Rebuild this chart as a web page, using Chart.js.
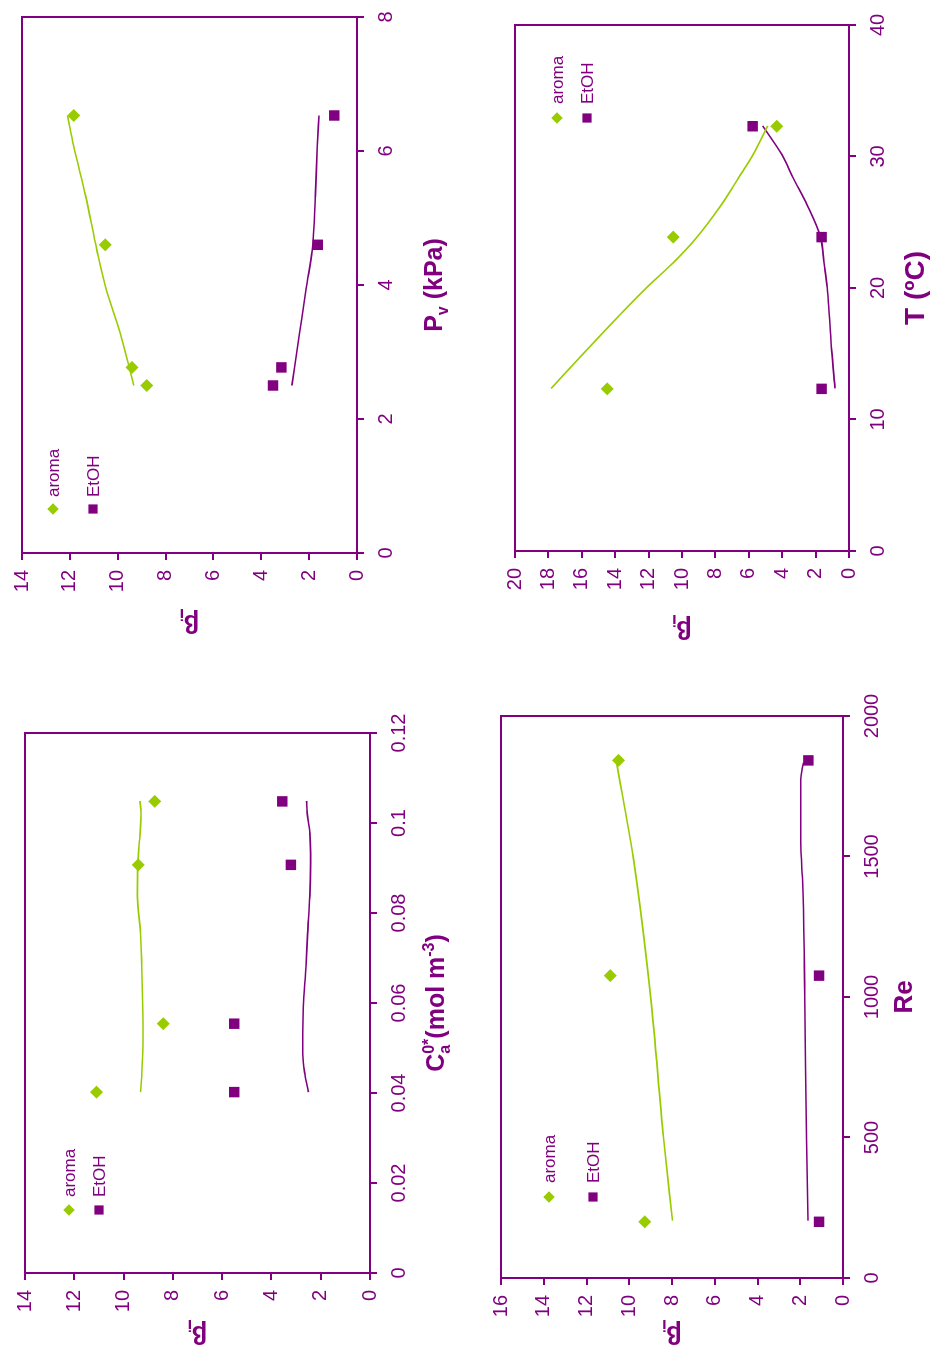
<!DOCTYPE html>
<html>
<head>
<meta charset="utf-8">
<title>βi – aroma and EtOH</title>
<script src="https://cdn.jsdelivr.net/npm/chart.js@4.4.1/dist/chart.umd.min.js"></script>
<style>
  html, body { margin: 0; padding: 0; background: #fff; overflow: hidden; width: 930px; height: 1353px; }
  /* the four panels are laid out on a landscape sheet that is turned a quarter turn */
  #sheet { position: absolute; left: 0; top: 0; width: 1353px; height: 930px; background: #fff;
           transform-origin: 0 0; transform: translateY(1353px) rotate(-90deg); }
  #sheet canvas { position: absolute; }
</style>
</head>
<body>
<div id="sheet"></div>
<script>
// ---------------- data ----------------
// β axis ticks
const beta14Ticks = [0, 2, 4, 6, 8, 10, 12, 14];
const beta14Labels = ['0', '2', '4', '6', '8', '10', '12', '14'];
const beta16Ticks = [0, 2, 4, 6, 8, 10, 12, 14, 16];
const beta16Labels = ['0', '2', '4', '6', '8', '10', '12', '14', '16'];
const beta20Ticks = [0, 2, 4, 6, 8, 10, 12, 14, 16, 18, 20];
const beta20Labels = ['0', '2', '4', '6', '8', '10', '12', '14', '16', '18', '20'];

// initial concentration C_a^0*
const caTicks = [0, 0.02, 0.04, 0.06, 0.08, 0.10, 0.12];
const caTickLabels = ['0', '0.02', '0.04', '0.06', '0.08', '0.1', '0.12'];
const caExp = [0.0402, 0.0554, 0.0907, 0.1048];
const caAroma = [11.10, 8.39, 9.40, 8.73];
const caEtoh = [5.51, 5.51, 3.21, 3.56];
const caFitX = [0.0402, 0.0441, 0.0487, 0.0534, 0.0589, 0.0681, 0.0755, 0.0838, 0.0912, 0.0977, 0.1023, 0.1049];
const caAromaFit = [9.31, 9.26, 9.22, 9.21, 9.22, 9.26, 9.31, 9.44, 9.42, 9.33, 9.29, 9.34];
const caEtohFit = [2.50, 2.64, 2.73, 2.73, 2.71, 2.60, 2.53, 2.44, 2.41, 2.44, 2.55, 2.57];

// Reynolds number
const reTicks = [0, 500, 1000, 1500, 2000];
const reTickLabels = ['0', '500', '1000', '1500', '2000'];
const reExp = [200, 1076, 1842];
const reAroma = [9.27, 10.89, 10.50];
const reEtoh = [1.12, 1.12, 1.62];
const reAromaFitX = [204, 500, 1000, 1500, 1834];
const reAromaFit = [7.98, 8.40, 9.00, 9.82, 10.59];
const reEtohFitX = [204, 500, 1000, 1400, 1550, 1775, 1834];
const reEtohFit = [1.64, 1.71, 1.79, 1.88, 1.98, 1.98, 1.85];

// permeate pressure P_v
const pvTicks = [0, 2, 4, 6, 8];
const pvTickLabels = ['0', '2', '4', '6', '8'];
const pvExp = [2.50, 2.77, 4.60, 6.53];
const pvAroma = [8.79, 9.40, 10.52, 11.84];
const pvEtoh = [3.51, 3.16, 1.64, 0.95];
const pvFitX = [2.50, 3.28, 3.96, 4.52, 5.33, 6.07, 6.53];
const pvAromaFit = [9.33, 9.89, 10.50, 10.87, 11.34, 11.84, 12.10];
const pvEtohFit = [2.72, 2.40, 2.12, 1.87, 1.74, 1.66, 1.59];

// temperature
const tTicks = [0, 10, 20, 30, 40];
const tTickLabels = ['0', '10', '20', '30', '40'];
const tExp = [12.33, 23.87, 32.30];
const tAroma = [14.47, 10.52, 4.33];
const tEtoh = [1.64, 1.64, 5.77];
const tFitX = [12.36, 15.28, 17.97, 20.03, 21.93, 23.84, 26.37, 28.34, 30.17, 32.33];
const tAromaFit = [17.84, 15.71, 13.71, 12.12, 10.52, 9.12, 7.62, 6.63, 5.73, 4.87];
const tEtohFit = [0.84, 1.04, 1.18, 1.30, 1.50, 1.70, 2.53, 3.33, 4.03, 5.17];

// series names
const seriesNames = ['aroma', 'EtOH'];

// axis titles as runs of text: [text, 'n' | 'sub' | 'sup', stackOverPrevious]
const betaTitle = [['β', 'n'], ['i', 'sub']];
const caTitle = [['C', 'n'], ['a', 'sub'], ['0*', 'sup', true], ['(mol m', 'n'], ['-3', 'sup'], [')', 'n']];
const reTitle = [['Re', 'n']];
const pvTitle = [['P', 'n'], ['v', 'sub'], [' (kPa)', 'n']];
const tTitle = [['T (ºC)', 'n']];

// ---------------- styling ----------------
const PURPLE = '#800080';
const GREEN = '#99CC00';
const FONT = "'Liberation Sans', Arial, Helvetica, sans-serif";

const panels = [
  { left: 0, top: 0, w: 680, h: 465, area: { l: 80, t: 25, r: 620, b: 370 },
    xRange: [0, 0.12], xTicks: caTicks, xLabels: caTickLabels,
    yRange: [0, 14], yTicks: beta14Ticks, yLabels: beta14Labels,
    expX: caExp, aroma: caAroma, etoh: caEtoh,
    aromaFitX: caFitX, aromaFit: caAromaFit, etohFitX: caFitX, etohFit: caEtohFit,
    xTitle: caTitle, xTitleSize: 25, xTitleY: 444, yTitleX: 27,
    legend: { dx: 63, dy: [44, 74], tx: 13 } },
  { left: 0, top: 465, w: 680, h: 465, area: { l: 75, t: 36, r: 637, b: 378 },
    xRange: [0, 2000], xTicks: reTicks, xLabels: reTickLabels,
    yRange: [0, 16], yTicks: beta16Ticks, yLabels: beta16Labels,
    expX: reExp, aroma: reAroma, etoh: reEtoh,
    aromaFitX: reAromaFitX, aromaFit: reAromaFit, etohFitX: reEtohFitX, etohFit: reEtohFit,
    xTitle: reTitle, xTitleSize: 26, xTitleY: 447, yTitleX: 27,
    legend: { dx: 81, dy: [48, 92], tx: 14 } },
  { left: 680, top: 0, w: 673, h: 465, area: { l: 120, t: 22, r: 656, b: 357 },
    xRange: [0, 8], xTicks: pvTicks, xLabels: pvTickLabels,
    yRange: [0, 14], yTicks: beta14Ticks, yLabels: beta14Labels,
    expX: pvExp, aroma: pvAroma, etoh: pvEtoh,
    aromaFitX: pvFitX, aromaFit: pvAromaFit, etohFitX: pvFitX, etohFit: pvEtohFit,
    xTitle: pvTitle, xTitleSize: 25, xTitleY: 442, yTitleX: 58,
    legend: { dx: 44, dy: [31, 71], tx: 12 } },
  { left: 680, top: 465, w: 673, h: 465, area: { l: 122, t: 50, r: 648, b: 384 },
    xRange: [0, 40], xTicks: tTicks, xLabels: tTickLabels,
    yRange: [0, 20], yTicks: beta20Ticks, yLabels: beta20Labels,
    expX: tExp, aroma: tAroma, etoh: tEtoh,
    aromaFitX: tFitX, aromaFit: tAromaFit, etohFitX: tFitX, etohFit: tEtohFit,
    xTitle: tTitle, xTitleSize: 28, xTitleY: 459, yTitleX: 52,
    legend: { dx: 433, dy: [42, 72], tx: 14 } }
];

// draws a run of normal / subscript / superscript text centred on x
function drawRich(ctx, runs, x, y, size) {
  const small = Math.round(size * 0.62);
  const laid = [];
  let total = 0, prevStart = 0;
  for (const [text, mode, stack] of runs) {
    const fs = mode === 'n' ? size : small;
    ctx.font = `bold ${fs}px ${FONT}`;
    const w = ctx.measureText(text).width;
    const sx = stack ? prevStart : total;
    laid.push({ text, mode, fs, sx });
    total = Math.max(total, sx + w);
    prevStart = sx;
  }
  const x0 = x - total / 2;
  ctx.textBaseline = 'alphabetic';
  ctx.textAlign = 'left';
  for (const r of laid) {
    const dy = r.mode === 'sub' ? size * 0.24 : r.mode === 'sup' ? -size * 0.42 : 0;
    ctx.font = `bold ${r.fs}px ${FONT}`;
    ctx.fillText(r.text, x0 + r.sx, y + dy);
  }
}

const decorations = {
  id: 'decorations',
  afterDraw(chart, args, opts) {
    const { ctx, chartArea: a } = chart;
    ctx.save();
    // upper and right edges of the plot frame
    ctx.strokeStyle = PURPLE;
    ctx.lineWidth = 2;
    ctx.beginPath();
    ctx.moveTo(a.left, a.top);
    ctx.lineTo(a.right, a.top);
    ctx.lineTo(a.right, a.bottom);
    ctx.stroke();

    // legend inside the plot
    const lg = opts.legend;
    [0, 1].forEach(i => {
      const ds = chart.data.datasets[i];
      const mx = a.left + lg.dx, my = a.top + lg.dy[i];
      ctx.fillStyle = ds.backgroundColor;
      Chart.helpers.drawPoint(ctx, {
        pointStyle: ds.pointStyle, radius: i === 0 ? 5.8 : 6.5, borderWidth: 0, rotation: 0
      }, mx, my);
      ctx.fillStyle = PURPLE;
      ctx.font = `17px ${FONT}`;
      ctx.textAlign = 'left';
      ctx.textBaseline = 'middle';
      ctx.fillText(ds.label, mx + lg.tx, my + 1);
    });

    // axis titles
    ctx.fillStyle = PURPLE;
    drawRich(ctx, opts.xTitle, (a.left + a.right) / 2, opts.xTitleY, opts.xTitleSize);
    ctx.translate(opts.yTitleX, (a.top + a.bottom) / 2);
    ctx.rotate(-Math.PI / 2);
    drawRich(ctx, betaTitle, 0, 0, 25);
    ctx.restore();
  }
};

function axis(range, ticks, labels, size) {
  return {
    type: 'linear',
    min: range[0], max: range[1],
    afterBuildTicks: s => { s.ticks = ticks.map(v => ({ value: v })); },
    afterFit: s => { if (s.isHorizontal()) s.height = size; else s.width = size; },
    ticks: {
      color: PURPLE, font: { family: FONT, size: 20 }, padding: 10,
      maxRotation: 0, minRotation: 0, autoSkip: false,
      callback: (v, i) => labels[i]
    },
    grid: { drawOnChartArea: false, drawTicks: true, tickLength: 7, color: PURPLE, lineWidth: 2 },
    border: { display: true, color: PURPLE, width: 2 },
    title: { display: false }
  };
}

const sheet = document.getElementById('sheet');
panels.forEach(p => {
  const cv = document.createElement('canvas');
  cv.width = p.w; cv.height = p.h;
  cv.style.left = p.left + 'px'; cv.style.top = p.top + 'px';
  cv.style.width = p.w + 'px'; cv.style.height = p.h + 'px';
  sheet.appendChild(cv);

  const pts = (xs, ys) => xs.map((x, i) => ({ x, y: ys[i] }));
  new Chart(cv, {
    type: 'scatter',
    data: {
      datasets: [
        { label: seriesNames[0], data: pts(p.expX, p.aroma), pointStyle: 'rectRot',
          pointRadius: 6.5, pointHoverRadius: 6.5, backgroundColor: GREEN, borderWidth: 0 },
        { label: seriesNames[1], data: pts(p.expX, p.etoh), pointStyle: 'rect',
          pointRadius: 7.4, pointHoverRadius: 7.4, backgroundColor: PURPLE, borderWidth: 0 },
        { label: seriesNames[0] + ' model', data: pts(p.aromaFitX, p.aromaFit), showLine: true,
          pointRadius: 0, borderColor: GREEN, borderWidth: 1.6, cubicInterpolationMode: 'monotone', fill: false },
        { label: seriesNames[1] + ' model', data: pts(p.etohFitX, p.etohFit), showLine: true,
          pointRadius: 0, borderColor: PURPLE, borderWidth: 1.6, cubicInterpolationMode: 'monotone', fill: false }
      ]
    },
    options: {
      responsive: false,
      animation: false,
      events: [],
      layout: { padding: { left: 0, top: p.area.t, right: p.w - p.area.r, bottom: 0 } },
      scales: {
        x: axis(p.xRange, p.xTicks, p.xLabels, p.h - p.area.b),
        y: axis(p.yRange, p.yTicks, p.yLabels, p.area.l)
      },
      plugins: {
        legend: { display: false },
        tooltip: { enabled: false },
        decorations: { legend: p.legend, xTitle: p.xTitle, xTitleSize: p.xTitleSize,
                       xTitleY: p.xTitleY, yTitleX: p.yTitleX }
      }
    },
    plugins: [decorations]
  });
});
</script>
</body>
</html>
